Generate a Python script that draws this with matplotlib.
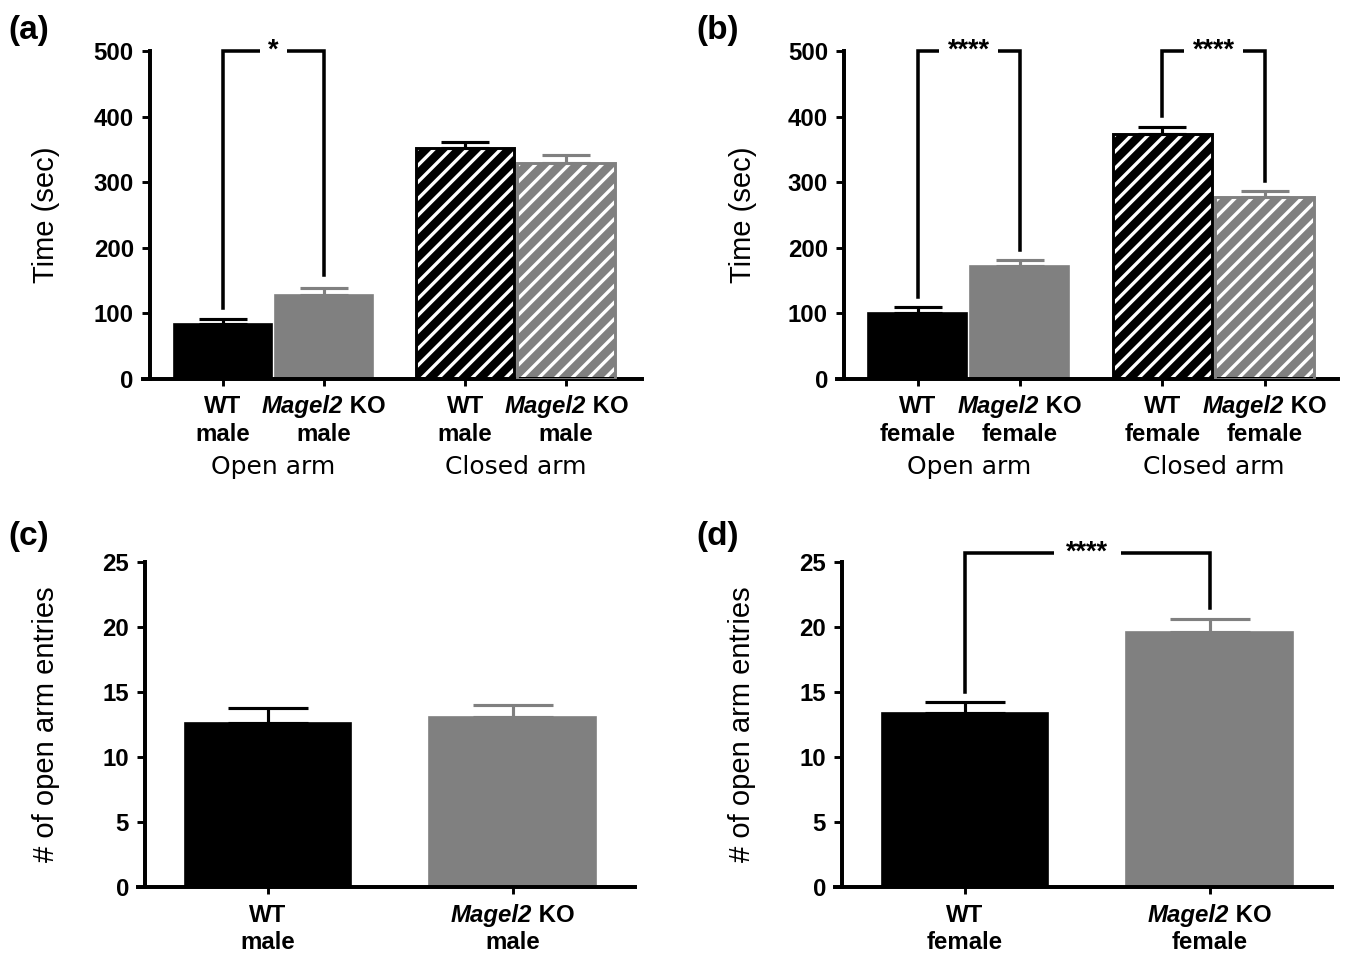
import matplotlib.pyplot as plt
import numpy as np

plt.rcParams['font.family'] = 'Liberation Sans'
plt.rcParams['hatch.linewidth'] = 1.6

# data
genotypes = ['WT', 'Magel2']
sex_male = 'male'
sex_female = 'female'
groups = ['Open arm', 'Closed arm']

time_male = [84, 128, 352, 329]
time_male_err = [8, 11, 10, 13]
time_female = [100, 173, 373, 278]
time_female_err = [9, 8, 11, 9]

entries_male = [12.6, 13.1]
entries_male_err = [1.2, 0.9]
entries_female = [13.4, 19.6]
entries_female_err = [0.8, 1.0]

# significance brackets: (i, j, low end i, low end j, stars)
sig_male = [(0, 1, 108, 158, '*')]
sig_female = [(0, 1, 125, 196, '****'), (2, 3, 401, 302, '****')]
sig_entries_female = [(0, 1, 15.0, 21.5, '****')]

BLACK = 'black'
GRAY = '#808080'
fills = [BLACK, GRAY, BLACK, GRAY]
hatched = [False, False, True, True]

W, H = 1347, 954
fig = plt.figure(figsize=(W / 150, H / 150), dpi=150)
renderer = fig.canvas.get_renderer()


def make_ax(x0, x1, ytop, ybot):
    return fig.add_axes([x0 / W, 1 - ybot / H, (x1 - x0) / W, (ybot - ytop) / H])


def style(ax, xlim, spine_x, ymax, yticks):
    ax.set_xlim(*xlim)
    ax.set_ylim(0, ymax)
    for s in ['top', 'right']:
        ax.spines[s].set_visible(False)
    ax.spines['left'].set_position(('data', spine_x))
    ax.spines['left'].set_bounds(0, ymax)
    for s in ['left', 'bottom']:
        ax.spines[s].set_linewidth(1.9)
    ax.set_yticks(yticks)
    ax.tick_params(axis='y', length=3.8, width=1.4, pad=4, labelsize=11.5)
    ax.tick_params(axis='x', length=3.5, width=1.4, labelbottom=False)
    for t in ax.get_yticklabels():
        t.set_fontweight('bold')


def draw_bars(ax, pos, vals, errs, width, capsize):
    for p, v, e, fc, h in zip(pos, vals, errs, fills, hatched):
        ec = BLACK if fc == BLACK else GRAY
        if h:
            ax.bar(p, v, width, color=fc, edgecolor='white', hatch='///', linewidth=0, zorder=2)
            ax.bar(p, v, width, fill=False, edgecolor=ec, linewidth=1.4, zorder=3)
        else:
            ax.bar(p, v, width, color=fc, edgecolor=ec, linewidth=0.8, zorder=2)
        ax.errorbar(p, v, yerr=[[0], [e]], fmt='none', ecolor=ec, elinewidth=1.5,
                    capsize=capsize, capthick=1.5, zorder=4)


def draw_sig(ax, pos, sigs, top, gap):
    for i, j, lo_i, lo_j, stars in sigs:
        xi, xj = pos[i], pos[j]
        ax.plot([xi, xi, xj, xj], [lo_i, top, top, lo_j], color=BLACK, lw=1.7,
                clip_on=False, zorder=5, solid_joinstyle='miter')
        ax.text((xi + xj) / 2, top, stars, ha='center', va='center', fontsize=13,
                fontweight='bold', zorder=6,
                bbox=dict(fc='white', ec='none', pad=gap))


def cat_labels(ax, pos, sex, dy1, dy2, size=11.5):
    xy = ('data', 'axes fraction')
    kw = dict(xycoords=xy, textcoords='offset pixels', va='baseline',
              fontsize=size, fontweight='bold', annotation_clip=False)
    for k, p in enumerate(pos):
        g = genotypes[k % 2]
        if g == 'WT':
            ax.annotate('WT', xy=(p, 0), xytext=(0, -dy1), ha='center', **kw)
        else:
            a = ax.annotate(g, xy=(p, 0), xytext=(0, -dy1), ha='right',
                            fontstyle='italic', **kw)
            b = ax.annotate(' KO', xy=(p, 0), xytext=(0, -dy1), ha='left', **kw)
            w1 = a.get_window_extent(renderer).width
            w2 = b.get_window_extent(renderer).width
            shift = (w1 - w2) / 2
            a.xyann = (shift, -dy1)
            b.xyann = (shift, -dy1)
        ax.annotate(sex, xy=(p, 0), xytext=(0, -dy2), ha='center', **kw)


def group_labels(ax, centers):
    for gx, g in zip(centers, groups):
        ax.annotate(g, xy=(gx, 0), xycoords=('data', 'axes fraction'), xytext=(0, -95),
                    textcoords='offset pixels', ha='center', va='baseline',
                    fontsize=12, family='DejaVu Sans')


pos4 = [0, 1, 2.4, 3.4]
pos2 = [0, 1]

# (a)
ax = make_ax(143, 642, 51, 379)
style(ax, (-0.79, 4.15), -0.72, 500, range(0, 501, 100))
draw_bars(ax, pos4, time_male, time_male_err, 0.97, 11.5)
draw_sig(ax, pos4, sig_male, 500, 4)
ax.set_xticks(pos4)
cat_labels(ax, pos4, sex_male, 34, 62)
group_labels(ax, [0.5, 2.9])
ax.set_ylabel('Time (sec)', fontsize=14)
ax.yaxis.set_label_coords(-0.166, 0.5)

# (b)
ax = make_ax(837, 1338, 51, 379)
style(ax, (-0.79, 4.12), -0.72, 500, range(0, 501, 100))
draw_bars(ax, pos4, time_female, time_female_err, 0.97, 11.5)
draw_sig(ax, pos4, sig_female, 500, 4)
ax.set_xticks(pos4)
cat_labels(ax, pos4, sex_female, 34, 62)
group_labels(ax, [0.5, 2.9])
ax.set_ylabel('Time (sec)', fontsize=14)
ax.yaxis.set_label_coords(-0.16, 0.5)

# (c)
ax = make_ax(138, 635, 562, 887)
style(ax, (-0.53, 1.5), -0.5, 25, range(0, 26, 5))
draw_bars(ax, pos2, entries_male, entries_male_err, 0.68, 19)
ax.set_xticks(pos2)
cat_labels(ax, pos2, sex_male, 35, 62)
ax.set_ylabel('# of open arm entries', fontsize=14)
ax.yaxis.set_label_coords(-0.157, 0.5)

# (d)
ax = make_ax(835, 1332, 562, 887)
style(ax, (-0.53, 1.5), -0.5, 25, range(0, 26, 5))
draw_bars(ax, pos2, entries_female, entries_female_err, 0.68, 19)
draw_sig(ax, pos2, sig_entries_female, 25.7, 6)
ax.set_xticks(pos2)
cat_labels(ax, pos2, sex_female, 35, 62)
ax.set_ylabel('# of open arm entries', fontsize=14)
ax.yaxis.set_label_coords(-0.159, 0.5)

for lab, (px, py) in zip(['(a)', '(b)', '(c)', '(d)'],
                         [(8, 30), (696, 30), (8, 537), (696, 537)]):
    fig.text(px / W, 1 - py / H, lab, ha='left', va='center', fontsize=16, fontweight='bold')

fig.savefig('out.png', dpi=150)
